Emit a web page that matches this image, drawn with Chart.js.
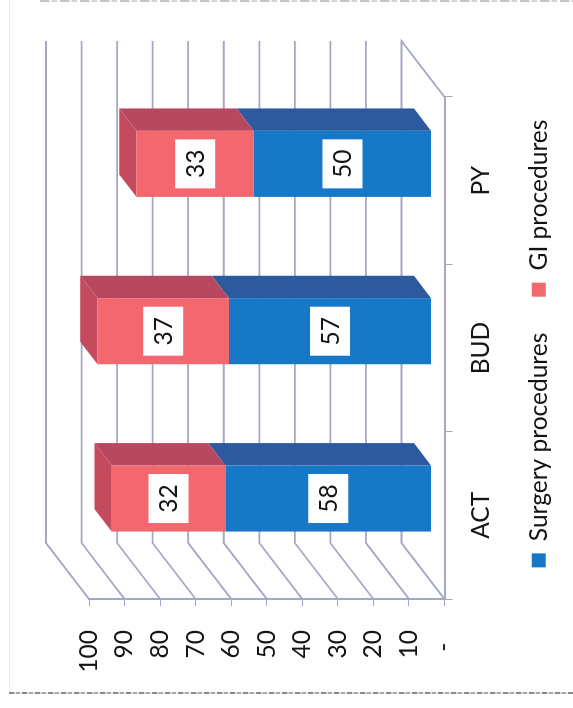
<!DOCTYPE html>
<html>
<head>
<meta charset="utf-8">
<title>Procedures</title>
<script src="https://cdn.jsdelivr.net/npm/chart.js@4"></script>
<style>
  html, body { margin: 0; padding: 0; background: #fff; overflow: hidden; }
  body { width: 573px; height: 708px; position: relative; }
  /* the page is a sideways scan, so the whole chart is turned a quarter turn */
  #wrap { position: absolute; left: 0; top: 0; width: 708px; height: 573px;
          transform-origin: 0 0; transform: translateY(708px) rotate(-90deg); }
  #edge { position: absolute; left: 9px; top: 0; width: 1px; height: 692px; background: #ececec; }
  #noise { position: absolute; left: 9px; top: 692px; width: 564px; height: 2px;
           background: repeating-linear-gradient(90deg, #8a8a8a 0 5px, #d8d8d8 5px 7px, #a8a8a8 7px 11px, #efefef 11px 13px); }
  #noiseTop { position: absolute; left: 40px; top: 0; width: 533px; height: 2px;
           background: repeating-linear-gradient(90deg, #c4c4c4 0 9px, #f2f2f2 9px 12px, #d4d4d4 12px 17px, #fff 17px 20px); }
</style>
</head>
<body>
<div id="edge"></div>
<div id="noise"></div>
<div id="noiseTop"></div>
<div id="wrap"><canvas id="chart" width="708" height="573"></canvas></div>
<script>
const categories = ["ACT", "BUD", "PY"];
const surgeryValues = [58, 57, 50];
const giValues = [32, 37, 33];
const valueTicks = [0, 10, 20, 30, 40, 50, 60, 70, 80, 90, 100];

const gridColor = "#a4a8c4";
const textColor = "#141414";
const fontName = "Lato, Carlito, sans-serif";
const fontSize = 24.5;

// depth of the fake 3D box, in canvas pixels
const depthX = 56;
const depthY = -43;
const barStart = 0.3;
const barDepth = 0.4;

function poly(ctx, color, pts) {
  ctx.fillStyle = color;
  ctx.beginPath();
  pts.forEach((p, i) => i ? ctx.lineTo(p[0], p[1]) : ctx.moveTo(p[0], p[1]));
  ctx.closePath();
  ctx.fill();
}

// Back wall, side wall and floor lines
function drawWalls(chart) {
  const ctx = chart.ctx;
  const area = chart.chartArea;
  const yScale = chart.scales.y;
  ctx.save();
  ctx.strokeStyle = gridColor;
  ctx.lineWidth = 1.8;
  valueTicks.forEach(v => {
    const y = yScale.getPixelForValue(v);
    ctx.beginPath();
    ctx.moveTo(area.left, y);
    ctx.lineTo(area.left + depthX, y + depthY);
    ctx.lineTo(area.right + depthX, y + depthY);
    if (v === 0) ctx.lineTo(area.right, y);
    ctx.stroke();
  });
  ctx.restore();
}

// Top and side faces of the stacked bars
function drawBarSides(chart) {
  const ctx = chart.ctx;
  const dx = depthX * barDepth;
  const dy = depthY * barDepth;
  chart.data.datasets.forEach((ds, d) => {
    chart.getDatasetMeta(d).data.forEach(el => {
      const right = el.x + el.width / 2;
      const left = el.x - el.width / 2;
      poly(ctx, ds.sideColor, [[right, el.y], [right, el.base], [right + dx, el.base + dy], [right + dx, el.y + dy]]);
      if (d === chart.data.datasets.length - 1) {
        poly(ctx, ds.capColor, [[left, el.y], [right, el.y], [right + dx, el.y + dy], [left + dx, el.y + dy]]);
      }
    });
  });
}

// White boxes with the values
function drawValueBoxes(chart) {
  const ctx = chart.ctx;
  ctx.font = fontSize + "px " + fontName;
  ctx.textAlign = "center";
  ctx.textBaseline = "middle";
  chart.data.datasets.forEach((ds, d) => {
    chart.getDatasetMeta(d).data.forEach((el, i) => {
      const midY = (el.y + el.base) / 2;
      ctx.fillStyle = "#fff";
      ctx.fillRect(el.x - 24.5, midY - 20, 49, 40);
      ctx.fillStyle = textColor;
      ctx.fillText(String(ds.data[i]), el.x, midY + 1);
    });
  });
}

const box3d = {
  id: "box3d",
  afterLayout(chart) {
    // legend sits off centre in the scan
    chart.legend.left = 18;
    chart.legend.right = 711;
  },
  beforeDatasetsDraw(chart) {
    drawWalls(chart);
    chart.ctx.save();
    chart.ctx.translate(depthX * barStart, depthY * barStart);
    drawBarSides(chart);
  },
  afterDatasetsDraw(chart) {
    drawValueBoxes(chart);
    chart.ctx.restore();
  }
};

new Chart(document.getElementById("chart"), {
  type: "bar",
  data: {
    labels: categories,
    datasets: [
      { label: "Surgery procedures", data: surgeryValues, backgroundColor: "#1878c8", sideColor: "#2d5a9e", capColor: "#2d5a9e" },
      { label: "GI procedures", data: giValues, backgroundColor: "#f2686e", sideColor: "#b84860", capColor: "#c44a5e" }
    ]
  },
  options: {
    responsive: false,
    animation: false,
    devicePixelRatio: 1,
    barPercentage: 0.395,
    categoryPercentage: 1,
    layout: { padding: { left: 15, right: 97, top: 89, bottom: 12 } },
    plugins: {
      tooltip: { enabled: false },
      legend: {
        position: "bottom",
        labels: {
          boxWidth: 14,
          boxHeight: 14,
          padding: 36,
          color: textColor,
          font: { family: fontName, size: fontSize }
        }
      }
    },
    scales: {
      x: {
        stacked: true,
        afterFit: s => { s.height = 46; },
        border: { color: gridColor, width: 2 },
        grid: { drawOnChartArea: false, offset: true, tickLength: 8, color: gridColor },
        ticks: { maxRotation: 0, padding: 14, color: textColor, font: { family: fontName, size: fontSize } }
      },
      y: {
        stacked: true,
        min: 0,
        max: 100,
        afterFit: s => { s.width = 94; },
        border: { color: gridColor, width: 2 },
        grid: { drawOnChartArea: false, tickLength: 7, color: gridColor },
        ticks: {
          stepSize: 10,
          padding: 24,
          color: textColor,
          font: { family: fontName, size: fontSize },
          callback: v => v === 0 ? "-\u00a0\u00a0" : v
        }
      }
    }
  },
  plugins: [box3d]
});
</script>
</body>
</html>
